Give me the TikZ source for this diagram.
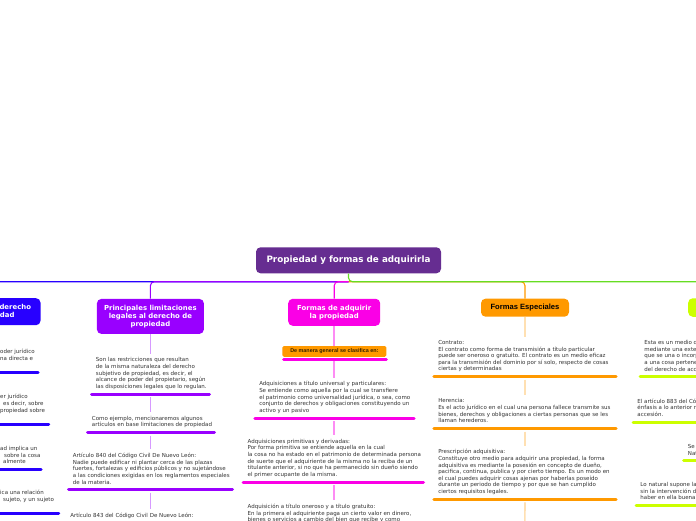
\documentclass[tikz,border=0pt]{standalone}
\usepackage{fontspec}
\setmainfont{DejaVu Sans}
\newfontfamily\dvs{DejaVu Sans}
\newfontfamily\lib{Liberation Sans}
\definecolor{rootc}{RGB}{102,45,145}
\definecolor{bluec}{RGB}{40,0,255}
\definecolor{purpc}{RGB}{153,0,255}
\definecolor{magc}{RGB}{250,0,230}
\definecolor{orc}{RGB}{255,153,0}
\definecolor{limec}{RGB}{204,255,0}
\definecolor{greenc}{RGB}{102,221,34}
\definecolor{txtc}{RGB}{51,51,51}
\tikzset{
  topic/.style={rounded corners=4.5pt, align=center, text=white, font=\dvs\bfseries\fontsize{6.9}{8}\selectfont, inner sep=0pt},
  leaf/.style={anchor=north west, align=left, inner xsep=5.75pt, inner ysep=3.5pt, text=txtc, font=\dvs\fontsize{5.5}{6.65}\selectfont, execute at begin node=\strut, execute at end node=\strut},
  ul/.style={line width=3pt, line cap=round, shorten <=1.5pt, shorten >=1.5pt},
  conn/.style={line width=1.1pt, rounded corners=4pt},
  sub/.style={line width=1.6pt},
}
\begin{document}
\begin{tikzpicture}[x=1pt,y=-1pt]
\useasboundingbox (0,0) rectangle (696,520);
\fill[white] (0,0) rectangle (696,520);
\clip (0,0) rectangle (696,520);

% root and main topics
\node[topic, fill=rootc, minimum width=185pt, minimum height=26pt, font=\dvs\bfseries\fontsize{8.8}{10}\selectfont] (root) at (348.5,260.3) {Propiedad y formas de adquirirla};
\node[topic, fill=bluec, anchor=east, inner xsep=9.5pt, minimum height=27pt] (t1) at (40.7,311.7) {Concepto del derecho\\de propiedad};
\node[topic, fill=purpc, minimum width=107pt, minimum height=35pt] (t2) at (150.4,316.4) {Principales limitaciones\\legales al derecho de\\propiedad};
\node[topic, fill=magc, minimum width=92pt, minimum height=27pt] (t3) at (334.2,312.3) {Formas de adquirir\\la propiedad};
\node[topic, fill=orc, text=black, minimum width=88pt, minimum height=18pt, font=\lib\bfseries\fontsize{7.6}{9}\selectfont] (t4) at (525,307.7) {Formas Especiales};
\node[topic, fill=limec, anchor=west, minimum width=60pt, minimum height=18.5pt] (t5) at (688,307.5) {};

% main connectors
\coordinate (hub) at ([yshift=-8.2pt]root.south);
\draw[conn, bluec] (hub) -| (t1.north);
\draw[conn, purpc] (hub) -| (t2.north);
\draw[conn, magc] (hub) -| (t3.north);
\draw[conn, orc] (hub) -| (t4.north);
\draw[conn, greenc] (root.south) -- (hub) -| (t5.north);

% blue column (clipped)
\node[leaf] (B1) at (-5.75,345.3) {oder jurídico\\na directa e\\};
\node[leaf] (B2) at (-5.75,390.6) {er jurídico\\\hspace*{3pt}es decir, sobre\\propiedad sobre\\};
\node[leaf] (B3) at (-5.75,442.6) {ad implica un\\\hspace*{4pt}sobre la cosa\\\hspace*{3pt}almente};
\node[leaf] (B4) at (-5.75,486.6) {ica una relación\\\hspace*{3pt}sujeto, y un sujeto\\};
\draw[ul, bluec] (B1.south west) -- ++(45.3,0);
\draw[ul, bluec] (B2.south west) -- ++(56,0);
\draw[ul, bluec] (B3.south west) -- ++(48.3,0);
\draw[ul, bluec] (B4.south west) -- ++(66,0);

% purple column
\node[leaf] (P1) at (90,354.0) {Son las restricciones que resultan\\de la misma naturaleza del derecho\\subjetivo de propiedad, es decir, el\\alcance de poder del propietario, según\\las disposiciones legales que lo regulan.};
\node[leaf] (P2) at (86,412.3) {Como ejemplo, mencionaremos algunos\\artículos en base limitaciones de propiedad};
\node[leaf] (P3) at (67,449.3) {Artículo 840 del Código Civil De Nuevo León:\\Nadie puede edificar ni plantar cerca de las plazas\\fuertes, fortalezas y edificios públicos y no sujetándose\\a las condiciones exigidas en los reglamentos especiales\\de la materia.};
\node[leaf] (P4) at (64.3,509.3) {Artículo 843 del Código Civil De Nuevo León:};
\draw[ul, purpc] (P1.south west) -- ++(121,0);
\draw[ul, purpc] (P2.south west) -- ++(130,0);
\draw[ul, purpc] (P3.south west) -- ++(167,0);
\draw[sub, purpc!40] (t2.south) -- (P1.north -| t2.south);
\draw[sub, purpc!40, shorten <=3pt] (P1.south -| t2.south) -- (P2.north -| t2.south);
\draw[sub, purpc!40, shorten <=3pt] (P2.south -| t2.south) -- (P3.north -| t2.south);
\draw[sub, purpc!40, shorten <=3pt] (P3.south -| t2.south) -- (P4.north -| t2.south);

% magenta column
\node[topic, fill=orc, text=black!80!orc, rounded corners=1.5pt, minimum width=104pt, minimum height=10.7pt, font=\lib\bfseries\fontsize{5.4}{6}\selectfont] (M0) at (334.4,351.4) {De manera general se clasifica en:};
\draw[ul, magc] ([yshift=-2.8pt]M0.south west) -- ++(105.6,0);
\node[leaf] (M1) at (253.3,377.6) {Adquisiciones a título universal y particulares:\\Se entiende como aquella por la cual se transfiere\\el patrimonio como universalidad jurídica, o sea, como\\conjunto de derechos y obligaciones constituyendo un\\activo y un pasivo};
\node[leaf] (M2) at (241.7,435.3) {Adquisiciones primitivas y derivadas:\\Por forma primitiva se entiende aquella en la cual\\la cosa no ha estado en el patrimonio de determinada persona\\de suerte que el adquiriente de la misma no la reciba de un\\titulante anterior, si no que ha permanecido sin dueño siendo\\el primer ocupante de la misma.};
\node[leaf] (M3) at (241.7,500.3) {Adquisición a título oneroso y a título gratuito:\\En la primera el adquiriente paga un cierto valor en dinero,\\bienes o servicios a cambio del bien que recibe y como};
\draw[ul, magc] (M1.south west) -- ++(162.4,0);
\draw[ul, magc] (M2.south west) -- ++(183.3,0);
\draw[sub, magc!45] (t3.south) -- (M0.north -| t3.south);
\draw[sub, magc!45, shorten <=4.5pt] (M0.south -| t3.south) -- (M1.north -| t3.south);
\draw[sub, magc!45, shorten <=3pt] (M1.south -| t3.south) -- (M2.north -| t3.south);
\draw[sub, magc!45, shorten <=3pt] (M2.south -| t3.south) -- (M3.north -| t3.south);

% orange column
\node[leaf] (O1) at (432.3,336.6) {Contrato:\\El contrato como forma de transmisión a título particular\\puede ser oneroso o gratuito. El contrato es un medio eficaz\\para la transmisión del dominio por sí solo, respecto de cosas\\ciertas y determinadas};
\node[leaf] (O2) at (432.3,395.0) {Herencia:\\Es el acto jurídico en el cual una persona fallece transmite sus\\bienes, derechos y obligaciones a ciertas personas que se les\\llaman herederos.};
\node[leaf] (O3) at (432.3,445.6) {Prescripción adquisitiva:\\Constituye otro medio para adquirir una propiedad, la forma\\adquisitiva es mediante la posesión en concepto de dueño,\\pacifica, continua, publica y por cierto tiempo. Es un modo en\\el cual puedes adquirir cosas ajenas por haberlas poseído\\durante un periodo de tiempo y por que se han cumplido\\ciertos requisitos legales.};
\coordinate (o4) at (524.8,540);
\draw[ul, orc] (O1.south west) -- ++(185.4,0);
\draw[ul, orc] (O2.south west) -- ++(185.4,0);
\draw[ul, orc] (O3.south west) -- ++(185.4,0);
\draw[sub, orc!30] (t4.south) -- (O1.north -| t4.south);
\draw[sub, orc!30, shorten <=3pt] (O1.south -| t4.south) -- (O2.north -| t4.south);
\draw[sub, orc!30, shorten <=3pt] (O2.south -| t4.south) -- (O3.north -| t4.south);
\draw[sub, orc!30, shorten <=3pt] (O3.south -| t4.south) -- (o4);

% lime column (clipped)
\node[leaf] (L1) at (638.5,336.6) {Esta es un medio d\\mediante una exter\\que se una o incorp\\a una cosa pertene\\del derecho de acc};
\node[leaf] (L2) at (631.5,395.0) {El artículo 883 del Có\\énfasis a lo anterior n\\accesión.};
\node[leaf] (L3) at (682,440.6) {Se\\Nat};
\node[leaf] (L4) at (634.5,478.8) {Lo natural supone la\\sin la intervención d\\haber en ella buena};
\draw[ul, limec] (L1.south west) -- ++(90,0);
\draw[ul, limec] (L2.south west) -- ++(90,0);
\draw[ul, limec] (L3.south west) -- ++(90,0);
\draw[ul, limec] (L4.south west) -- ++(90,0);
\end{tikzpicture}
\end{document}
